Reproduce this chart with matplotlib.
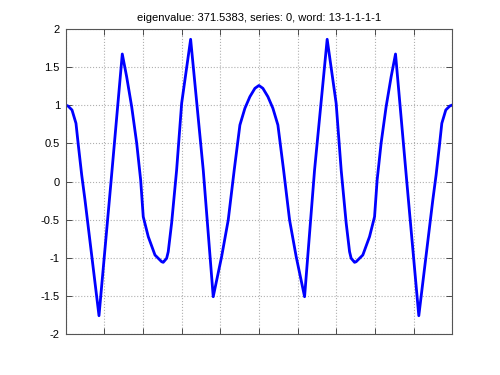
import matplotlib
matplotlib.use("Agg")
import matplotlib.pyplot as plt

plt.rcParams['font.family'] = ['Liberation Sans', 'DejaVu Sans']
plt.rcParams['axes.unicode_minus'] = False

title_text = "eigenvalue: 371.5383, series: 0, word: 13-1-1-1-1"

x_vals = [0.0, 0.0065, 0.0168, 0.0271, 0.0331, 0.0419, 0.0504, 0.0866, 0.1176, 0.1468,
          0.1581, 0.1711, 0.1840, 0.1943, 0.2010, 0.2140, 0.2313, 0.2486, 0.2527,
          0.2615, 0.2656, 0.2744, 0.2873, 0.3003, 0.3235, 0.3561, 0.3819, 0.4036, 0.4207,
          0.4362, 0.4509, 0.4638, 0.4767, 0.4897, 0.5,
          0.5103, 0.5233, 0.5362, 0.5491, 0.5638, 0.5793, 0.5964, 0.6181, 0.6439, 0.6765,
          0.6997, 0.7127, 0.7256, 0.7344, 0.7385, 0.7473, 0.7514, 0.7687, 0.7860, 0.7990,
          0.8057, 0.8160, 0.8289, 0.8419, 0.8532, 0.8824, 0.9134, 0.9496, 0.9581,
          0.9669, 0.9729, 0.9832, 0.9935, 1.0]
y_vals = [1.003, 0.990, 0.938, 0.763, 0.479, 0.085, -0.243, -1.760, -0.007, 1.672,
          1.374, 0.981, 0.505, 0.020, -0.462, -0.724, -0.964, -1.052, -1.060,
          -1.007, -0.921, -0.544, 0.151, 1.026, 1.865, 0.151, -1.511, -0.986, -0.505,
          0.151, 0.741, 0.960, 1.112, 1.222, 1.259,
          1.222, 1.112, 0.960, 0.741, 0.151, -0.505, -0.986, -1.511, 0.151, 1.865,
          1.026, 0.151, -0.544, -0.921, -1.007, -1.060, -1.052, -0.964, -0.724, -0.462,
          0.020, 0.505, 0.981, 1.374, 1.672, -0.007, -1.760, -0.243, 0.085,
          0.479, 0.763, 0.938, 0.990, 1.003]

x_ticks = [0.0, 0.1, 0.2, 0.3, 0.4, 0.5, 0.6, 0.7, 0.8, 0.9, 1.0]
y_ticks = [-2, -1.5, -1, -0.5, 0, 0.5, 1, 1.5, 2]
y_tick_labels = ["-2", "-1.5", "-1", "-0.5", "0", "0.5", "1", "1.5", "2"]

fig = plt.figure(figsize=(5, 3.75), dpi=100)
ax = fig.add_axes([0.131, 0.1093, 0.7736, 0.8134])
ax.plot(x_vals, y_vals, color=(0, 0, 1), linewidth=2)
ax.set_xlim(0, 1)
ax.set_ylim(-2, 2)
ax.set_xticks(x_ticks)
ax.set_xticklabels([])
ax.set_yticks(y_ticks)
ax.set_yticklabels(y_tick_labels)
ax.grid(True, linestyle=':', color='#b0b0b0', linewidth=0.8)
ax.tick_params(direction='in', top=True, right=True, length=4, width=0.6,
               labelsize=8, colors='#333333', labelcolor='black', pad=4)
for s in ax.spines.values():
    s.set_color('#555555')
    s.set_linewidth(0.8)
ax.set_title(title_text, fontsize=8, pad=6)
fig.savefig("out.png", dpi=100)
